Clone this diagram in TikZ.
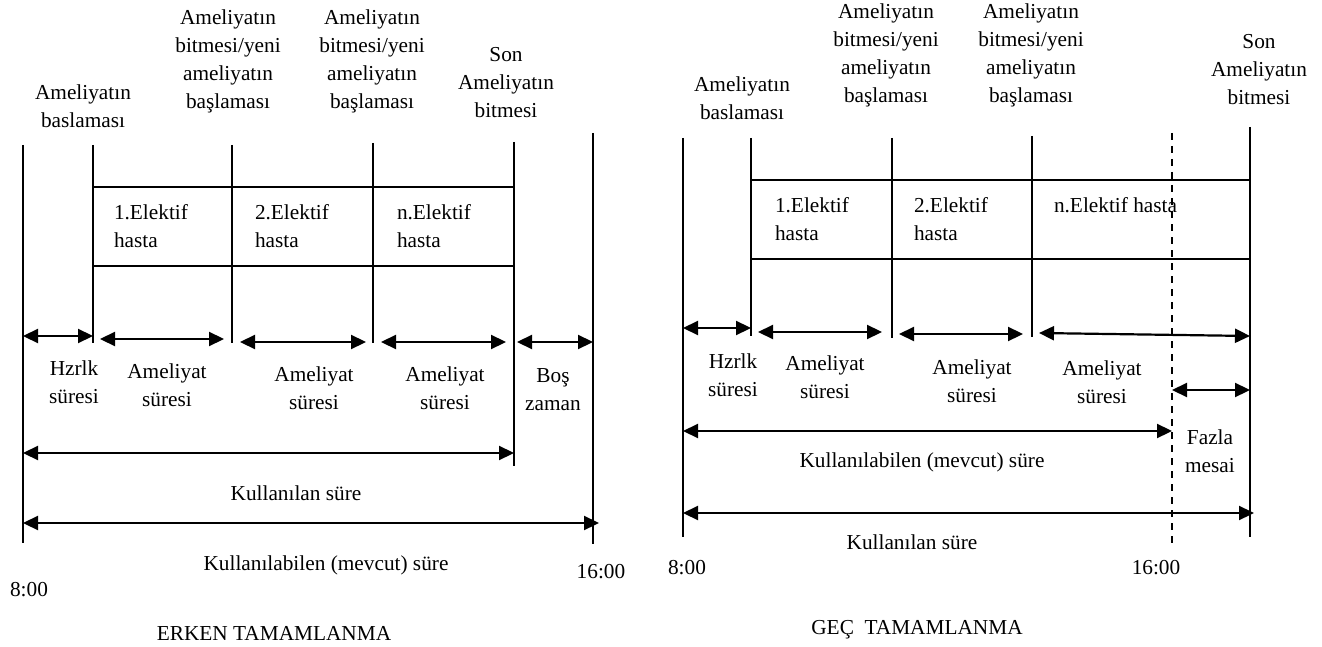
\documentclass[tikz,border=0pt]{standalone}
\usepackage{fontspec}
\setmainfont{Liberation Serif}
\usetikzlibrary{arrows.meta}
\begin{document}
\begin{tikzpicture}[x=1pt,y=-1pt,
  every node/.style={font=\fontsize{21.3}{28}\selectfont, inner sep=0pt, outer sep=0pt},
  lbl/.style={align=center},
  tick/.style={line width=2pt},
  cell/.style={draw, line width=2.6pt, anchor=north west},
  span/.style={{Triangle[length=15pt,width=14pt]}-{Triangle[length=15pt,width=14pt]}, line width=2.2pt},
  limit/.style={line width=2pt, dash pattern=on 7pt off 6pt},
  celltext/.style={align=left, anchor=west},
]
\useasboundingbox (0,0) rectangle (1322,647);

% ---------------- early completion ----------------
% time marks
\coordinate (a0t) at (23,145);  \coordinate (a0b) at (23,543);
\coordinate (a1t) at (93,145);  \coordinate (a1b) at (93,343);
\coordinate (a2t) at (232,145); \coordinate (a2b) at (232,343);
\coordinate (a3t) at (373,143); \coordinate (a3b) at (373,343);
\coordinate (a4t) at (514,142); \coordinate (a4b) at (514,466);
\coordinate (a5t) at (593,133); \coordinate (a5b) at (593,544);
\foreach \i in {0,...,5} \draw[tick] (a\i t) -- (a\i b);

% patients
\node[cell, minimum width=139pt, minimum height=79pt] (ea) at (93,187) {};
\node[cell, minimum width=141pt, minimum height=79pt] (eb) at (232,187) {};
\node[cell, minimum width=141pt, minimum height=79pt] (ec) at (373,187) {};
\node[celltext] (eat) at ([xshift=21pt]ea.west) {1.Elektif\\hasta};
\node[celltext] (ebt) at ([xshift=23pt]eb.west) {2.Elektif\\hasta};
\node[celltext] (ect) at ([xshift=24pt]ec.west) {n.Elektif\\hasta};

% event labels
\node[lbl] (el1) at (83,106) {Ameliyatın\\baslaması};
\node[lbl] (el2) at (228,61) {Ameliyatın\\bitmesi/yeni\\ameliyatın\\başlaması};
\node[lbl] (el3) at (372,61) {Ameliyatın\\bitmesi/yeni\\ameliyatın\\başlaması};
\node[lbl] (el4) at (506,83) {Son\\Ameliyatın\\bitmesi};

% durations
\coordinate (ep0) at (23,336);  \coordinate (ep1) at (93,336);
\coordinate (eq0) at (100,339); \coordinate (eq1) at (224,339);
\coordinate (er0) at (240,342); \coordinate (er1) at (366,342);
\coordinate (es0) at (381,342); \coordinate (es1) at (506,342);
\coordinate (et0) at (517,342); \coordinate (et1) at (593,342);
\coordinate (eu0) at (23,453);  \coordinate (eu1) at (514,453);
\coordinate (ev0) at (23,523);  \coordinate (ev1) at (599,523);
\foreach \k in {p,q,r,s,t,u,v} \draw[span] (e\k0) -- (e\k1);

\node[lbl] (ed1) at (74,382) {Hzrlk\\süresi};
\node[lbl] (ed2) at (167,385) {Ameliyat\\süresi};
\node[lbl] (ed3) at (314,388) {Ameliyat\\süresi};
\node[lbl] (ed4) at (445,388) {Ameliyat\\süresi};
\node[lbl] (ed5) at (553,390) {Boş\\zaman};
\node (eused) at (296,493) {Kullanılan süre};
\node (eavail) at (326,565) {Kullanılabilen (mevcut) süre};
\node (estart) at (29,590) {8:00};
\node (eend) at (601,572) {16:00};
\node (etitle) at (274,633) {ERKEN TAMAMLANMA};

% ---------------- late completion ----------------
\coordinate (b0t) at (683,138);  \coordinate (b0b) at (683,537);
\coordinate (b1t) at (751,138);  \coordinate (b1b) at (751,336);
\coordinate (b2t) at (892,138);  \coordinate (b2b) at (892,338);
\coordinate (b3t) at (1032,136); \coordinate (b3b) at (1032,337);
\coordinate (b4t) at (1250,127); \coordinate (b4b) at (1250,537);
\foreach \i in {0,...,4} \draw[tick] (b\i t) -- (b\i b);

\node[cell, minimum width=141pt, minimum height=79pt] (la) at (751,180) {};
\node[cell, minimum width=140pt, minimum height=79pt] (lb) at (892,180) {};
\node[cell, minimum width=218pt, minimum height=79pt] (lc) at (1032,180) {};
\node[celltext] (lat) at ([xshift=24pt]la.west) {1.Elektif\\hasta};
\node[celltext] (lbt) at ([xshift=22pt]lb.west) {2.Elektif\\hasta};
\node[celltext] (lct) at ([xshift=22pt,yshift=14pt]lc.west) {n.Elektif hasta};

% end of the regular shift
\coordinate (cht) at (1172,133); \coordinate (chb) at (1172,546);
\draw[limit] (cht) -- (chb);

\node[lbl] (ll1) at (742,98) {Ameliyatın\\baslaması};
\node[lbl] (ll2) at (886,55) {Ameliyatın\\bitmesi/yeni\\ameliyatın\\başlaması};
\node[lbl] (ll3) at (1031,55) {Ameliyatın\\bitmesi/yeni\\ameliyatın\\başlaması};
\node[lbl] (ll4) at (1259,70) {Son\\Ameliyatın\\bitmesi};

\coordinate (lp0) at (683,328);  \coordinate (lp1) at (751,328);
\coordinate (lq0) at (758,332);  \coordinate (lq1) at (882,332);
\coordinate (lr0) at (899,334);  \coordinate (lr1) at (1023,334);
\coordinate (ls0) at (1039,333); \coordinate (ls1) at (1250,336);
\coordinate (lt0) at (1172,390); \coordinate (lt1) at (1250,390);
\coordinate (lu0) at (683,431);  \coordinate (lu1) at (1172,431);
\coordinate (lv0) at (683,513);  \coordinate (lv1) at (1254,513);
\foreach \k in {p,q,r,s,t,u,v} \draw[span] (l\k0) -- (l\k1);

\node[lbl] (ld1) at (733,375) {Hzrlk\\süresi};
\node[lbl] (ld2) at (825,377) {Ameliyat\\süresi};
\node[lbl] (ld3) at (972,381) {Ameliyat\\süresi};
\node[lbl] (ld4) at (1102,382) {Ameliyat\\süresi};
\node[lbl] (ld5) at (1210,451) {Fazla\\mesai};
\node (lavail) at (922,462) {Kullanılabilen (mevcut) süre};
\node (lused) at (912,542) {Kullanılan süre};
\node (lstart) at (687,568) {8:00};
\node (lend) at (1156,568) {16:00};
\node (ltitle) at (917,630) {GEÇ\ \ TAMAMLANMA};
\end{tikzpicture}
\end{document}
